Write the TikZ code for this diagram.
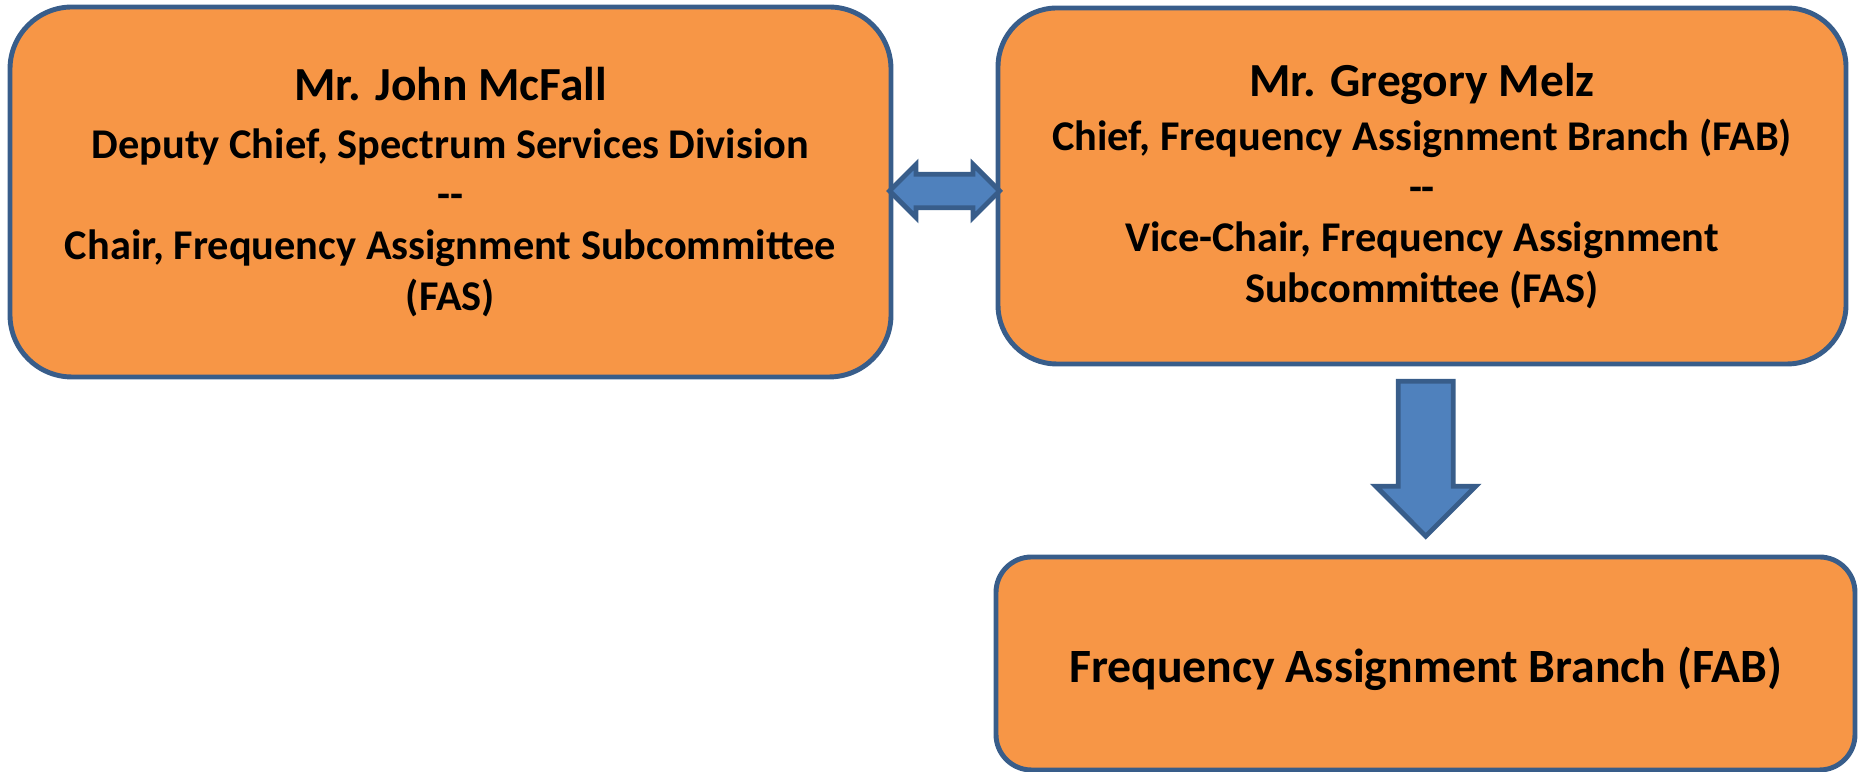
\documentclass[tikz,border=0pt]{standalone}
\usepackage{fontspec}
\setmainfont{Carlito}
\usetikzlibrary{shapes.arrows,calc}
\definecolor{boxorange}{HTML}{F79646}
\definecolor{boxblue}{HTML}{385D8A}
\definecolor{arrowblue}{HTML}{4F81BD}
\tikzset{
  person/.style={draw=boxblue, fill=boxorange, line width=1.4pt, align=center,
    font=\bfseries\fontsize{12.05}{14.4}\selectfont, inner sep=0pt},
  blockarrow/.style={draw=boxblue, fill=arrowblue, line width=1.4pt, inner sep=0pt, text depth=0pt}
}
\newcommand{\bossname}[1]{{\fontsize{13.5}{16}\selectfont #1}}

\begin{document}
\begin{tikzpicture}
\useasboundingbox (0,0) rectangle (18.58,-7.72);

\node [person, minimum width=8.81cm, minimum height=3.70cm, rounded corners=.62cm] (mcfall) at (4.505,-1.92)
  {\bossname{Mr. John McFall}\\[2pt]Deputy Chief, Spectrum Services Division\\-{}-\\Chair, Frequency Assignment Subcommittee\\(FAS)};
\node [person, minimum width=8.48cm, minimum height=3.56cm, rounded corners=.59cm] (melz) at (14.22,-1.86)
  {\bossname{Mr. Gregory Melz}\\[1pt]Chief, Frequency Assignment Branch (FAB)\\-{}-\\Vice-Chair, Frequency Assignment\\Subcommittee (FAS)};
\node [person, minimum width=8.59cm, minimum height=2.13cm, rounded corners=.355cm] (fab) at (14.255,-6.635)
  {\raisebox{-.05cm}[\height][\depth]{\fontsize{13.6}{16}\selectfont Frequency Assignment Branch (FAB)}};

\node [double arrow, blockarrow, text height=.26cm, minimum height=1.10cm, minimum width=.53cm,
  double arrow head extend=.09cm, yshift=-.02cm] (link) at ($(mcfall.east)!.5!(melz.west)$) {};
\node [single arrow, blockarrow, xshift=.02cm, yshift=.155cm, rotate=270, text height=.44cm, minimum height=1.55cm,
  minimum width=1.0cm, single arrow head extend=.20cm] (down) at ($(melz.south)!.5!(fab.north)$) {};
\end{tikzpicture}
\end{document}
